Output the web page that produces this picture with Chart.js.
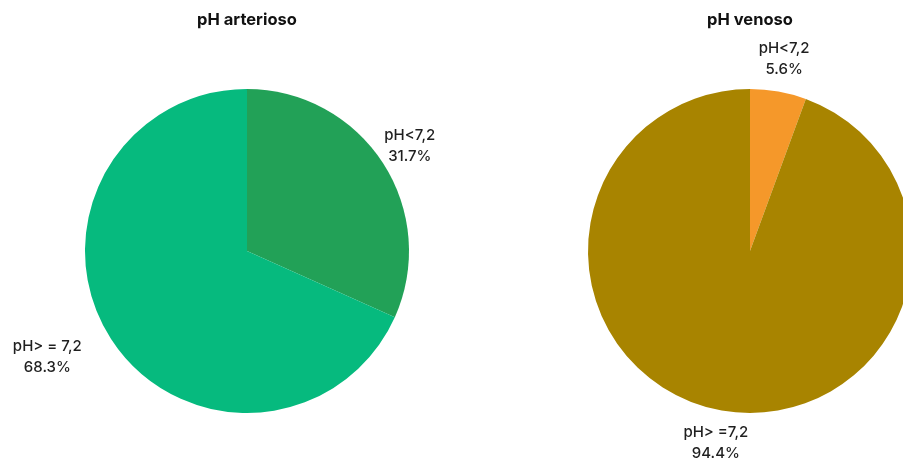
<!DOCTYPE html>
<html>
<head>
<meta charset="utf-8">
<script src="https://cdn.jsdelivr.net/npm/chart.js@4.4.1/dist/chart.umd.min.js"></script>
<style>
  html, body { margin: 0; padding: 0; background: #ffffff; overflow: hidden; width: 903px; height: 463px; }
  .wrap { position: absolute; top: 0; width: 494px; height: 463px; }
  #left { left: 0; }
  #right { left: 503px; }
</style>
</head>
<body>
<div class="wrap" id="left"><canvas id="arterial" width="494" height="463"></canvas></div>
<div class="wrap" id="right"><canvas id="venous" width="494" height="463"></canvas></div>
<script>
// Categories and shares (%)
const arterialTitle = 'pH arterioso';
const arterialLabels = ['pH<7,2', 'pH> = 7,2'];
const arterialValues = [31.7, 68.3];

const venousTitle = 'pH venoso';
const venousLabels = ['pH<7,2', 'pH> =7,2'];
const venousValues = [5.6, 94.4];

const FONT = 'Inter, "Noto Sans", sans-serif';

// Draws "category / value%" next to each slice, along the slice's middle angle
const outsideLabels = {
  id: 'outsideLabels',
  afterDraw(chart, args, opts) {
    const ctx = chart.ctx;
    const meta = chart.getDatasetMeta(0);
    const data = chart.data.datasets[0].data;
    ctx.save();
    ctx.fillStyle = '#1f1f1f';
    ctx.font = '500 15px ' + FONT;
    ctx.textAlign = 'center';
    ctx.textBaseline = 'middle';
    meta.data.forEach((arc, i) => {
      const p = arc.getProps(['x', 'y', 'startAngle', 'endAngle', 'outerRadius'], true);
      const nudge = (opts.nudge && opts.nudge[i]) || { r: 32, da: 0 };
      const mid = (p.startAngle + p.endAngle) / 2 + nudge.da * Math.PI / 180;
      const r = p.outerRadius + nudge.r;
      const cx = p.x + Math.cos(mid) * r;
      const cy = p.y + Math.sin(mid) * r;
      ctx.fillText(chart.data.labels[i], cx, cy - 10.5);
      ctx.fillText(data[i].toFixed(1) + '%', cx, cy + 10.5);
    });
    ctx.restore();
  }
};

function makePie(id, title, labels, values, colors, nudge) {
  return new Chart(document.getElementById(id), {
    type: 'pie',
    data: {
      labels: labels,
      datasets: [{
        data: values,
        backgroundColor: colors,
        borderWidth: 0
      }]
    },
    options: {
      responsive: false,
      animation: false,
      layout: { padding: { top: 0, bottom: 50, left: 0, right: 0 } },
      plugins: {
        legend: { display: false },
        tooltip: { enabled: false },
        title: {
          display: true,
          text: title,
          color: '#111111',
          font: { family: FONT, size: 16.5, weight: 'bold', lineHeight: 1.2 },
          padding: { top: 10, bottom: 59.2 }
        },
        outsideLabels: { nudge: nudge }
      }
    },
    plugins: [outsideLabels]
  });
}

makePie('arterial', arterialTitle, arterialLabels, arterialValues,
  ['#22a157', '#06ba7e'],
  [{ r: 32, da: 0 }, { r: 64, da: 5 }]);

makePie('venous', venousTitle, venousLabels, venousValues,
  ['#f5982a', '#a88400'],
  [{ r: 33, da: 0 }, { r: 33, da: 0 }]);
</script>
</body>
</html>
